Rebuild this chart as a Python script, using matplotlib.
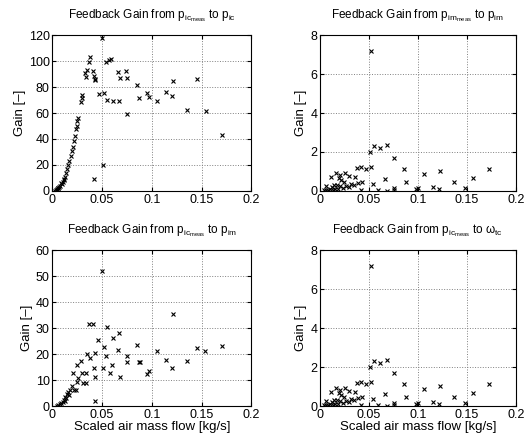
import numpy as np
import matplotlib
matplotlib.use("Agg")
import matplotlib.pyplot as plt

plt.rcParams['font.family'] = ['Liberation Sans', 'DejaVu Sans']
plt.rcParams['mathtext.default'] = 'regular'
plt.rcParams['font.size'] = 8

# p_ic_meas -> p_ic
x_ic = [0.0037, 0.005, 0.006, 0.0078, 0.0095, 0.0105, 0.0118, 0.0128, 0.0138, 0.0151,
        0.0161, 0.0171, 0.0185, 0.0196, 0.0206, 0.0219, 0.0229, 0.0239, 0.0246, 0.0252,
        0.0262, 0.003, 0.0042, 0.0055, 0.0068, 0.0088, 0.0112,
        0.0292, 0.030, 0.0296, 0.0333, 0.0337, 0.0347, 0.037, 0.038,
        0.0407, 0.042, 0.043, 0.0427, 0.0464, 0.0504, 0.0514, 0.0423, 0.0524,
        0.0538, 0.0565, 0.0592, 0.0554, 0.0609, 0.0669, 0.0659, 0.0682, 0.0743, 0.075,
        0.0753, 0.0851, 0.0871, 0.0952, 0.0972, 0.1052, 0.1143, 0.1204, 0.121,
        0.1355, 0.1459, 0.154, 0.1704]
y_ic = [0.8, 1.3, 2.6, 3.9, 5.4, 7.2, 9.3, 11.1, 13.7, 16.7,
        20.1, 23.4, 27.0, 30.4, 34.2, 38.1, 42.5, 47.6, 49.7, 53.5,
        56.1, 0.3, 1.0, 2.0, 3.2, 6.3, 8.2,
        68.5, 71.6, 74.1, 90.9, 88.0, 92.9, 99.4, 103.2,
        92.1, 88.3, 86.3, 85.2, 74.9, 118.0, 20.3, 9.5, 75.4,
        99.4, 100.6, 101.4, 69.7, 69.3, 69.3, 91.4, 87.0, 92.1, 86.7,
        58.9, 81.9, 71.6, 75.4, 72.0, 69.0, 75.9, 72.8, 84.4,
        62.5, 86.5, 61.8, 43.0]

# p_ic_meas -> p_im
x_icim = [0.0044, 0.0078, 0.0105, 0.0118, 0.0131, 0.0151, 0.0161, 0.0178, 0.0199, 0.0219,
          0.0239, 0.0246, 0.0262, 0.006, 0.009, 0.0125, 0.014, 0.0168,
          0.0206, 0.0289, 0.0302, 0.0337, 0.034, 0.0306, 0.035, 0.0377, 0.043,
          0.0367, 0.0407, 0.0548, 0.0672, 0.0609, 0.0461, 0.0518, 0.0851, 0.0659,
          0.0541, 0.0746, 0.0746, 0.0871, 0.0595, 0.0514, 0.0417, 0.0575, 0.0682,
          0.0433, 0.0972, 0.0952, 0.0427, 0.0501, 0.1214, 0.1052, 0.1459, 0.1536,
          0.1704, 0.1143, 0.1355, 0.1207, 0.0884, 0.0246]
y_icim = [0.2, 0.8, 1.5, 2.5, 3.4, 4.7, 5.3, 6.3, 7.6, 6.3,
          6.3, 9.4, 10.7, 0.4, 1.1, 1.9, 3.0, 4.2,
          12.8, 17.2, 12.8, 12.8, 8.7, 8.8, 19.9, 18.5, 20.3,
          31.5, 31.7, 30.6, 28.0, 26.0, 25.5, 22.9, 23.4, 21.5,
          19.3, 19.3, 17.1, 17.1, 15.8, 14.5, 14.5, 12.8, 11.3,
          11.3, 13.6, 12.4, 2.1, 51.8, 35.5, 21.0, 22.2, 21.1,
          23.2, 17.8, 17.2, 14.5, 17.1, 15.6]

# p_im_meas -> p_im  (and p_ic_meas -> w_tc, same values)
x_im = [0.0521, 0.0508, 0.0555, 0.0613, 0.0682, 0.0756, 0.0375, 0.0416, 0.047, 0.0525,
        0.0859, 0.1066, 0.016, 0.0109, 0.0204, 0.0252, 0.0296, 0.0355, 0.0191, 0.0218,
        0.0245, 0.0432, 0.0388, 0.0661, 0.0882, 0.032, 0.0348, 0.0269, 0.0293, 0.0542,
        0.0061, 0.012, 0.014, 0.017, 0.02, 0.004, 0.006, 0.008, 0.01, 0.013, 0.015,
        0.0422, 0.0593, 0.0685, 0.0756, 0.0756, 0.0978, 0.1002, 0.1226, 0.1159, 0.122,
        0.1369, 0.1479, 0.156, 0.1727, 0.018, 0.023]
y_im = [7.18, 2.01, 2.32, 2.22, 2.36, 1.69, 1.19, 1.21, 1.13, 1.23,
        1.14, 0.87, 0.9, 0.7, 0.83, 0.9, 0.77, 0.73, 0.65, 0.56,
        0.48, 0.48, 0.39, 0.61, 0.46, 0.36, 0.31, 0.26, 0.19, 0.34,
        0.26, 0.2, 0.33, 0.3, 0.25, 0.04, 0.06, 0.03, 0.08, 0.05, 0.1,
        0.05, 0.05, 0.02, 0.14, 0.04, 0.09, 0.17, 1.02, 0.22, 0.1,
        0.44, 0.14, 0.67, 1.14, 0.12, 0.15]

titles = [r'Feedback Gain from $p_{ic_{meas}}$ to $p_{ic}$',
          r'Feedback Gain from $p_{im_{meas}}$ to $p_{im}$',
          r'Feedback Gain from $p_{ic_{meas}}$ to $p_{im}$',
          r'Feedback Gain from $p_{ic_{meas}}$ to $\omega_{tc}$']
ymax = [120, 8, 60, 8]
ystep = [20, 2, 10, 2]
data = [(x_ic, y_ic), (x_im, y_im), (x_icim, y_icim), (x_im, y_im)]

fig = plt.figure(figsize=(5.29, 4.38), dpi=100)
rects = [[0.099, 0.564, 0.376, 0.356], [0.605, 0.564, 0.370, 0.356],
         [0.099, 0.073, 0.376, 0.356], [0.605, 0.073, 0.370, 0.356]]

for i in range(4):
    ax = fig.add_axes(rects[i])
    xs, ys = data[i]
    ax.plot(xs, ys, 'x', color='black', ms=3, mew=0.8)
    ax.set_xlim(0, 0.2)
    ax.set_ylim(0, ymax[i])
    ax.set_xticks([0, 0.05, 0.1, 0.15, 0.2])
    ax.set_xticklabels(['0', '0.05', '0.1', '0.15', '0.2'])
    ax.set_yticks(np.arange(0, ymax[i] + 1, ystep[i]))
    ax.grid(True, linestyle=':', color='gray', linewidth=0.7)
    ax.tick_params(direction='in', length=3, top=True, right=True, labelsize=9, pad=2)
    for s in ax.spines.values():
        s.set_linewidth(0.8)
    ax.set_title(titles[i], fontsize=8.5, pad=12)
    ax.set_ylabel('Gain [–]', fontsize=9.5, labelpad=2)
    if i >= 2:
        ax.set_xlabel('Scaled air mass flow [kg/s]', fontsize=9.5, labelpad=0)

fig.savefig('out.png', dpi=100)
